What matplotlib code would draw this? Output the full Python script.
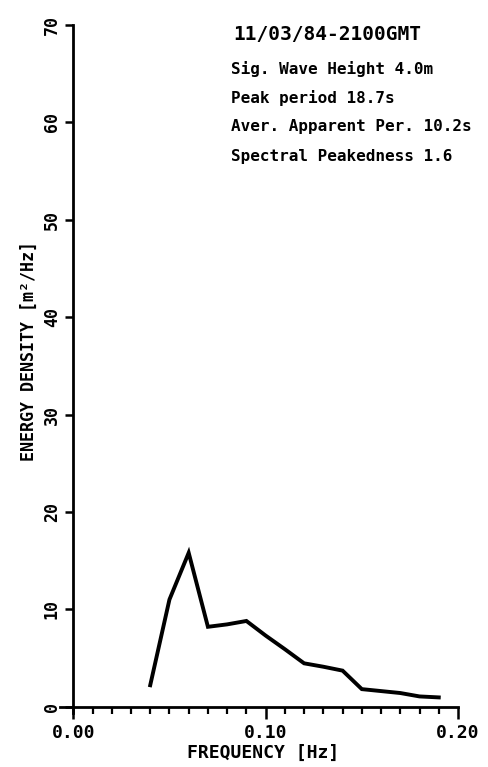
import matplotlib
matplotlib.use("Agg")
import matplotlib.pyplot as plt
from matplotlib.ticker import MultipleLocator

# spectrum
freq = [0.04, 0.05, 0.06, 0.07, 0.08, 0.09, 0.10, 0.11, 0.12, 0.13, 0.14, 0.15, 0.16, 0.17, 0.18, 0.19]
energy = [2.2, 11.0, 15.8, 8.2, 8.45, 8.8, 7.3, 5.9, 4.45, 4.1, 3.7, 1.8, 1.6, 1.4, 1.05, 0.95]

yticks = [0, 10, 20, 30, 40, 50, 60, 70]
xticks = [0.00, 0.10, 0.20]
xticklabels = ["0.00", "0.10", "0.20"]

header = "11/03/84-2100GMT"
info_lines = [
    "Sig. Wave Height 4.0m",
    "Peak period 18.7s",
    "Aver. Apparent Per. 10.2s",
    "Spectral Peakedness 1.6",
]

W, H = 489, 767
mono = "DejaVu Sans Mono"

fig = plt.figure(figsize=(W / 100, H / 100), dpi=100)
# x: -0.007 .. 0.20 -> px 59.8 .. 458 ; y: -0.6 .. 70 -> px 712.5 .. 25
left, right = 59.8 / W, 458 / W
bottom, top = 1 - 712.5 / H, 1 - 25 / H
ax = fig.add_axes([left, bottom, right - left, top - bottom])

ax.plot(freq, energy, color="black", lw=2.8, solid_joinstyle="miter")

ax.set_xlim(-0.007, 0.20)
ax.set_ylim(-0.6, 70)
ax.spines["top"].set_visible(False)
ax.spines["right"].set_visible(False)
ax.spines["left"].set_position(("data", 0))
ax.spines["bottom"].set_position(("data", 0))
for s in ("left", "bottom"):
    ax.spines[s].set_linewidth(2.0)

ax.set_yticks(yticks)
ax.set_yticklabels([str(v) for v in yticks], rotation=90, va="center",
                   fontfamily=mono, fontweight="bold", fontsize=12)
ax.set_xticks(xticks)
ax.set_xticklabels(xticklabels, fontfamily=mono, fontweight="bold", fontsize=13)
ax.xaxis.set_minor_locator(MultipleLocator(0.01))
ax.tick_params(axis="y", direction="out", length=6, width=1.8, pad=3)
ax.tick_params(axis="x", which="major", direction="out", length=8.5, width=1.8, pad=4)
ax.tick_params(axis="x", which="minor", direction="out", length=5, width=1.6)

fig.text(263 / W, 1 - 753 / H, "FREQUENCY [Hz]", ha="center", va="center",
         fontfamily=mono, fontweight="bold", fontsize=13)
fig.text(29 / W, 1 - 351 / H, "ENERGY DENSITY [m²/Hz]", ha="center", va="center",
         rotation=90, fontfamily=mono, fontweight="bold", fontsize=12)

fig.text(233 / W, 1 - 35 / H, header, ha="left", va="center",
         fontfamily=mono, fontweight="bold", fontsize=14)
for i, line in enumerate(info_lines):
    fig.text(231 / W, 1 - (69 + 29 * i) / H, line, ha="left", va="center",
             fontfamily=mono, fontweight="bold", fontsize=11.5)

fig.savefig("out.png", dpi=100)
